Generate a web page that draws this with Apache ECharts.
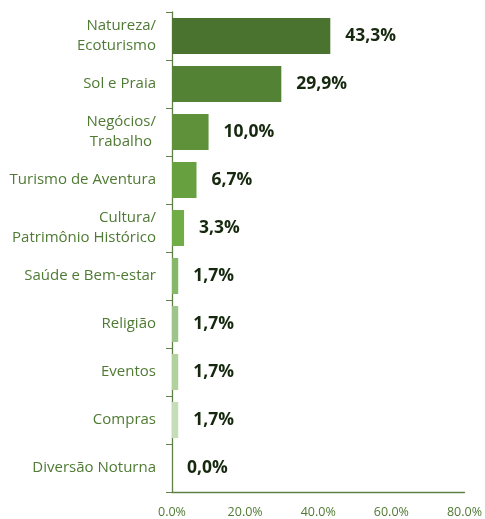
<!DOCTYPE html>
<html><head><meta charset="utf-8">
<script src="https://cdn.jsdelivr.net/npm/echarts@6/dist/echarts.min.js"></script>
<style>html,body{margin:0;padding:0;background:#fff}#c{width:485px;height:519px}</style>
</head><body><div id="c"></div>
<script>
const categories = ["Natureza/\nEcoturismo","Sol e Praia","Negócios/\nTrabalho ","Turismo de Aventura","Cultura/\nPatrimônio Histórico","Saúde e Bem-estar","Religião","Eventos","Compras","Diversão Noturna"];
const values = [43.3, 29.9, 10.0, 6.7, 3.3, 1.7, 1.7, 1.7, 1.7, 0.0];
const barColors = ["#4b7330","#548235","#5e9139","#67a03f","#70ad47","#84b868","#9dc48b","#b1d19f","#c6ddb9","#d5e6cc"];
const xTicks = [0, 20, 40, 60, 80];

const chart = echarts.init(document.getElementById('c'));
chart.setOption({
  animation: false,
  grid: {left: 172, right: 16, top: 12, bottom: 25},
  xAxis: {
    type: 'value', min: xTicks[0], max: xTicks[xTicks.length-1], interval: xTicks[1]-xTicks[0],
    splitLine: {show: false},
    axisLine: {show: true, lineStyle: {color: '#5f8046', width: 1.3}},
    axisTick: {show: false},
    axisLabel: {color: '#4f7a34', fontFamily: 'Open Sans', fontSize: 12.5, margin: 14,
      formatter: v => v.toFixed(1) + '%'}
  },
  yAxis: {
    type: 'category', data: categories, inverse: true,
    axisLine: {show: true, lineStyle: {color: '#5f8046', width: 1.3}},
    axisTick: {show: true, length: 6, lineStyle: {color: '#5f8046'}},
    axisLabel: {color: '#4f7a34', fontFamily: 'Open Sans', fontSize: 15, margin: 16, lineHeight: 20, align: 'right'}
  },
  series: [{
    type: 'bar', barCategoryGap: '25%',
    data: values.map((v, i) => ({value: v, itemStyle: {color: barColors[i]}})),
    label: {show: true, position: 'right', distance: 15, color: '#16290e',
      fontFamily: 'Open Sans', fontWeight: 'bold', fontSize: 17.5,
      formatter: p => p.value.toFixed(1).replace('.', ',') + '%'}
  }]
});
</script></body></html>
